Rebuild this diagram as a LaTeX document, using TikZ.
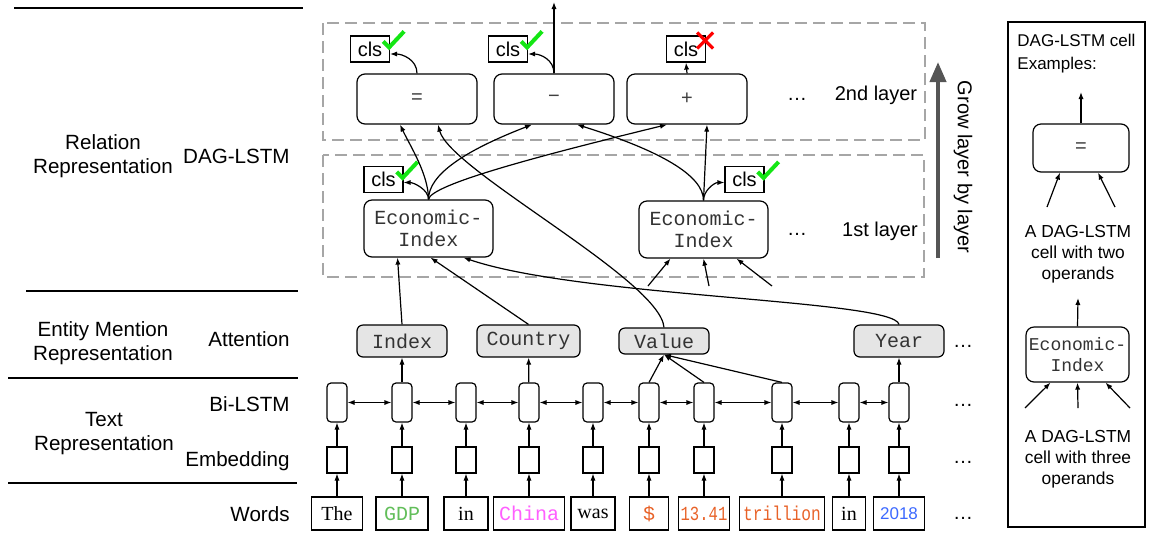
\documentclass[tikz,border=0pt]{standalone}
\usepackage{fontspec}
\usepackage{graphicx}
\setmainfont{Liberation Sans}
\setmonofont{Liberation Mono}
\newfontfamily\wordserif{Liberation Serif}
\usetikzlibrary{arrows.meta,calc}

\definecolor{gdpgreen}{RGB}{98,190,90}
\definecolor{chinapink}{RGB}{255,95,255}
\definecolor{numorange}{RGB}{232,98,40}
\definecolor{yearblue}{RGB}{60,105,255}
\definecolor{tickgreen}{RGB}{20,230,20}
\definecolor{attgray}{RGB}{229,229,229}
\definecolor{growgray}{RGB}{85,85,85}

\tikzset{
  arr/.style={-{Latex[length=3.5pt,width=2.6pt]}, line width=0.6pt},
  biarr/.style={{Latex[length=3.5pt,width=2.6pt]}-{Latex[length=3.5pt,width=2.6pt]}, line width=0.6pt},
  opcell/.style={draw, rounded corners=4pt, line width=0.6pt, minimum width=60pt, minimum height=25pt, text=black!75},
  eicell/.style={draw, rounded corners=4pt, line width=0.6pt, minimum width=64.5pt, minimum height=28.5pt, align=center, font=\ttfamily\fontsize{10}{11}\selectfont, text=black!80},
  clsbox/.style={draw, line width=0.6pt, minimum width=19.5pt, minimum height=13pt, inner sep=0pt},
  attbox/.style={draw, fill=attgray, rounded corners=3pt, line width=0.6pt, minimum width=45pt, minimum height=16pt, inner sep=2pt, font=\ttfamily, text=black!80},
  lstmcell/.style={draw, rounded corners=2pt, line width=0.6pt, minimum width=10pt, minimum height=19.5pt, inner sep=0pt},
  embcell/.style={draw, line width=0.6pt, minimum width=10pt, minimum height=13pt, inner sep=0pt},
  wordbox/.style={draw, line width=0.6pt, minimum height=16.5pt, inner sep=1pt},
  layerbox/.style={draw=black!35, line width=0.6pt, dash pattern=on 6pt off 3pt},
  rowlabel/.style={anchor=base east, inner sep=0pt, font=\fontsize{10.3}{12}\selectfont},
  grouplabel/.style={align=center, inner sep=0pt, font=\fontsize{10.3}{12}\selectfont},
  panellabel/.style={align=center, inner sep=0pt, font=\fontsize{8.7}{10.5}\selectfont}
}

\newcommand\clsok[1]{\draw[tickgreen, line width=2pt] ($(#1.north east)+(-7,6)$) -- ++(6,6) -- ++(15,-16);}
\newcommand\clsno[1]{\draw[red, line width=1.6pt] ($(#1.north east)+(-9,-3)$) -- ++(16,16) ($(#1.north east)+(7,-3)$) -- ++(-16,16);}

\begin{document}
\begin{tikzpicture}[x=0.5pt,y=0.5pt,yscale=-1,xscale=1]
\useasboundingbox (0,0) rectangle (1156,537);

\draw[line width=0.6pt] (14,8) -- (303,8);
\draw[line width=0.6pt] (26,291) -- (298,291);
\draw[line width=0.6pt] (8,378) -- (298,378);
\draw[line width=0.6pt] (8,483) -- (297,483);

\node[grouplabel] (lrel) at (103,156) {Relation\\Representation};
\node[grouplabel] (lent) at (103,343) {Entity Mention\\Representation};
\node[grouplabel] (ltxt) at (104,434) {Text\\Representation};
\node[rowlabel] (ldag) at (290,163) {DAG-LSTM};
\node[rowlabel] (latt) at (290,346) {Attention};
\node[rowlabel] (lbi) at (290,411) {Bi-LSTM};
\node[rowlabel] (lemb) at (290,466) {Embedding};
\node[rowlabel] (lwrd) at (290,521) {Words};

\draw[layerbox] (323,23) rectangle (925,140);
\draw[layerbox] (323,155) rectangle (924,277);

\node[opcell] (eq) at (417,99) {=};
\node[opcell] (mi) at (554,99) {−};
\node[opcell] (pl) at (687,99) {+};
\node[clsbox] (c1) at (370,49) {cls};
\node[clsbox] (c2) at (508,49) {cls};
\node[clsbox] (c3) at (686,49) {cls};
\coordinate (top) at (554,2);
\node[anchor=base, inner sep=0pt] (d2) at (797,100) {\dots};
\node[anchor=base, inner sep=0pt] (l2) at (876,100) {2nd layer};

\node[eicell] (ei1) at (428.5,228.5) {Economic-\\Index};
\node[eicell] (ei2) at (703.5,229.5) {Economic-\\Index};
\node[clsbox] (c4) at (383.5,179.5) {cls};
\node[clsbox] (c5) at (744.5,179.5) {cls};
\node[anchor=base, inner sep=0pt] (d1) at (797,235) {\dots};
\node[anchor=base, inner sep=0pt] (l1) at (880,236) {1st layer};

\clsok{c1}
\clsok{c2}
\clsno{c3}
\clsok{c4}
\clsok{c5}

\coordinate (gbot) at (938,258);
\coordinate (gtop) at (938,62);
\draw[growgray, line width=2pt, -{Triangle[length=10pt,width=8pt]}] (gbot) -- (gtop);
\node[rotate=-90] (grow) at (963,167) {Grow layer by layer};

\node[attbox] (idx) at (402,341) {Index};
\node[attbox, minimum width=51.5pt] (cty) at (528.5,341) {Country};
\node[attbox, minimum height=13pt] (val) at (664,341) {Value};
\node[attbox] (yr) at (899,341) {Year};
\node[anchor=base, inner sep=0pt] (da) at (963,347) {\dots};

\node[lstmcell] (h1) at (337,402.5) {};
\node[lstmcell] (h2) at (402,402.5) {};
\node[lstmcell] (h3) at (466,402.5) {};
\node[lstmcell] (h4) at (529,402.5) {};
\node[lstmcell] (h5) at (593,402.5) {};
\node[lstmcell] (h6) at (649,402.5) {};
\node[lstmcell] (h7) at (704,402.5) {};
\node[lstmcell] (h8) at (782,402.5) {};
\node[lstmcell] (h9) at (849,402.5) {};
\node[lstmcell] (h10) at (899,402.5) {};
\node[anchor=base, inner sep=0pt] (db) at (963,406) {\dots};

\node[embcell] (e1) at (337,460) {};
\node[embcell] (e2) at (402,460) {};
\node[embcell] (e3) at (466,460) {};
\node[embcell] (e4) at (529,460) {};
\node[embcell] (e5) at (593,460) {};
\node[embcell] (e6) at (649,460) {};
\node[embcell] (e7) at (704,460) {};
\node[embcell] (e8) at (782,460) {};
\node[embcell] (e9) at (849,460) {};
\node[embcell] (e10) at (899,460) {};
\node[anchor=base, inner sep=0pt] (de) at (963,463) {\dots};

\node[wordbox, minimum width=25.5pt, font=\wordserif] (w1) at (337,513.5) {The};
\node[wordbox, minimum width=26pt, font=\ttfamily, text=gdpgreen] (w2) at (402,513.5) {GDP};
\node[wordbox, minimum width=22pt, font=\wordserif] (w3) at (466,513.5) {in};
\node[wordbox, minimum width=35.5pt, font=\ttfamily, text=chinapink] (w4) at (529,513.5) {China};
\node[wordbox, minimum width=22pt, font=\wordserif] (w5) at (593,513.5) {was};
\node[wordbox, minimum width=19.5pt, font=\ttfamily, text=numorange] (w6) at (649,513.5) {\$};
\node[wordbox, minimum width=25.5pt, font=\ttfamily, text=numorange] (w7) at (704,513.5) {\scalebox{0.78}[1]{13.41}};
\node[wordbox, minimum width=42.5pt, font=\ttfamily, text=numorange] (w8) at (782,513.5) {\scalebox{0.81}[1]{trillion}};
\node[wordbox, minimum width=16.5pt, font=\wordserif] (w9) at (849,513.5) {in};
\node[wordbox, minimum width=25.5pt, font=\fontsize{8.5}{10}\selectfont, text=yearblue] (w10) at (899,513.5) {2018};
\node[anchor=base, inner sep=0pt] (dw) at (963,519) {\dots};

\draw[arr] (w1) -- (e1);
\draw[arr] (w2) -- (e2);
\draw[arr] (w3) -- (e3);
\draw[arr] (w4) -- (e4);
\draw[arr] (w5) -- (e5);
\draw[arr] (w6) -- (e6);
\draw[arr] (w7) -- (e7);
\draw[arr] (w8) -- (e8);
\draw[arr] (w9) -- (e9);
\draw[arr] (w10) -- (e10);

\draw[arr] (e1) -- (h1);
\draw[arr] (e2) -- (h2);
\draw[arr] (e3) -- (h3);
\draw[arr] (e4) -- (h4);
\draw[arr] (e5) -- (h5);
\draw[arr] (e6) -- (h6);
\draw[arr] (e7) -- (h7);
\draw[arr] (e8) -- (h8);
\draw[arr] (e9) -- (h9);
\draw[arr] (e10) -- (h10);

\draw[biarr] (h1) -- (h2);
\draw[biarr] (h2) -- (h3);
\draw[biarr] (h3) -- (h4);
\draw[biarr] (h4) -- (h5);
\draw[biarr] (h5) -- (h6);
\draw[biarr] (h6) -- (h7);
\draw[biarr] (h7) -- (h8);
\draw[biarr] (h8) -- (h9);
\draw[biarr] (h9) -- (h10);

\draw[arr] (h2) -- (idx);
\draw[arr] (h4) -- (cty);
\draw[arr] (h6.north) -- (val.south);
\draw[arr] (h7.north) -- (val.south);
\draw[arr] (h8.north) -- (val.south);
\draw[arr] (h10) -- (yr);

\draw[arr] (idx.north) -- ($(ei1.south)+(-31,0)$);
\draw[arr] (cty.north) -- ($(ei1.south)+(2,0)$);
\draw[arr] (yr.north) .. controls +(-5,-25) and +(117,40) .. ($(ei1.south)+(35,0)$);

\coordinate (o1) at (648,286);
\coordinate (o2) at (709,286);
\coordinate (o3) at (772,286);
\draw[arr] (o1) -- ($(ei2.south)+(-33,0)$);
\draw[arr] (o2) -- (ei2.south);
\draw[arr] (o3) -- ($(ei2.south)+(33,0)$);

\draw[arr] (ei1.north) .. controls +(0,-10) and +(10,0) .. ($(c4.east)+(0,3)$);
\draw[arr] (ei2.north) .. controls +(0,-10) and +(-10,0) .. ($(c5.west)+(0,3)$);
\draw[arr] (ei1.north) .. controls +(0,-25) and +(10,21) .. ($(eq.south)+(-17,0)$);
\draw[arr] (ei1.north) .. controls +(0,-25) and +(-67,26) .. ($(mi.south)+(-22,0)$);
\draw[arr] (ei1.north) .. controls +(2,-15) and +(-127,31) .. ($(pl.south)+(-20,0)$);
\draw[arr] (ei2.north) .. controls +(0,-25) and +(83,26) .. ($(mi.south)+(23,0)$);
\draw[arr] (ei2.north) -- ($(pl.south)+(20,0)$);
\draw[arr] (val.north) .. controls +(-4,-48) and +(12,46) .. ($(eq.south)+(21,0)$);

\draw[arr] (eq.north) .. controls +(0,-14) and +(12,0) .. ($(c1.east)+(0,5)$);
\draw[arr] (mi.north) .. controls +(0,-14) and +(12,0) .. ($(c2.east)+(0,5)$);
\draw[arr] (mi.north) -- (top);
\draw[arr] (pl.north) -- (c3.south);

\draw[line width=0.6pt] (1008,22) rectangle (1145,527);
\node[anchor=north west, inner sep=0pt, align=left, font=\fontsize{8.5}{11.5}\selectfont] (ptitle) at (1017,34) {DAG-LSTM cell\\Examples:};
\node[opcell, minimum width=48pt, minimum height=24pt] (peq) at (1081,148) {=};
\coordinate (pout) at (1081,92);
\draw[arr] (peq.north) -- (pout);
\coordinate (pa1) at (1047,207);
\coordinate (pa2) at (1115,207);
\draw[arr] (pa1) -- ($(peq.south)+(-21,0)$);
\draw[arr] (pa2) -- ($(peq.south)+(17,0)$);
\node[panellabel] (ptwo) at (1078,254) {A DAG-LSTM\\cell with two\\operands};
\node[eicell, minimum width=51.5pt, minimum height=27.5pt, inner sep=1pt, font=\ttfamily\fontsize{9}{10.5}\selectfont] (pei) at (1077.5,354.5) {Economic-\\Index};
\coordinate (pout2) at (1078,298);
\draw[arr] (pei.north) -- (pout2);
\coordinate (pb1) at (1025,408);
\coordinate (pb2) at (1078,408);
\coordinate (pb3) at (1130,408);
\draw[arr] (pb1) -- ($(pei.south)+(-27,0)$);
\draw[arr] (pb2) -- (pei.south);
\draw[arr] (pb3) -- ($(pei.south)+(28,0)$);
\node[panellabel] (pthree) at (1078,459) {A DAG-LSTM\\cell with three\\operands};

\end{tikzpicture}
\end{document}
